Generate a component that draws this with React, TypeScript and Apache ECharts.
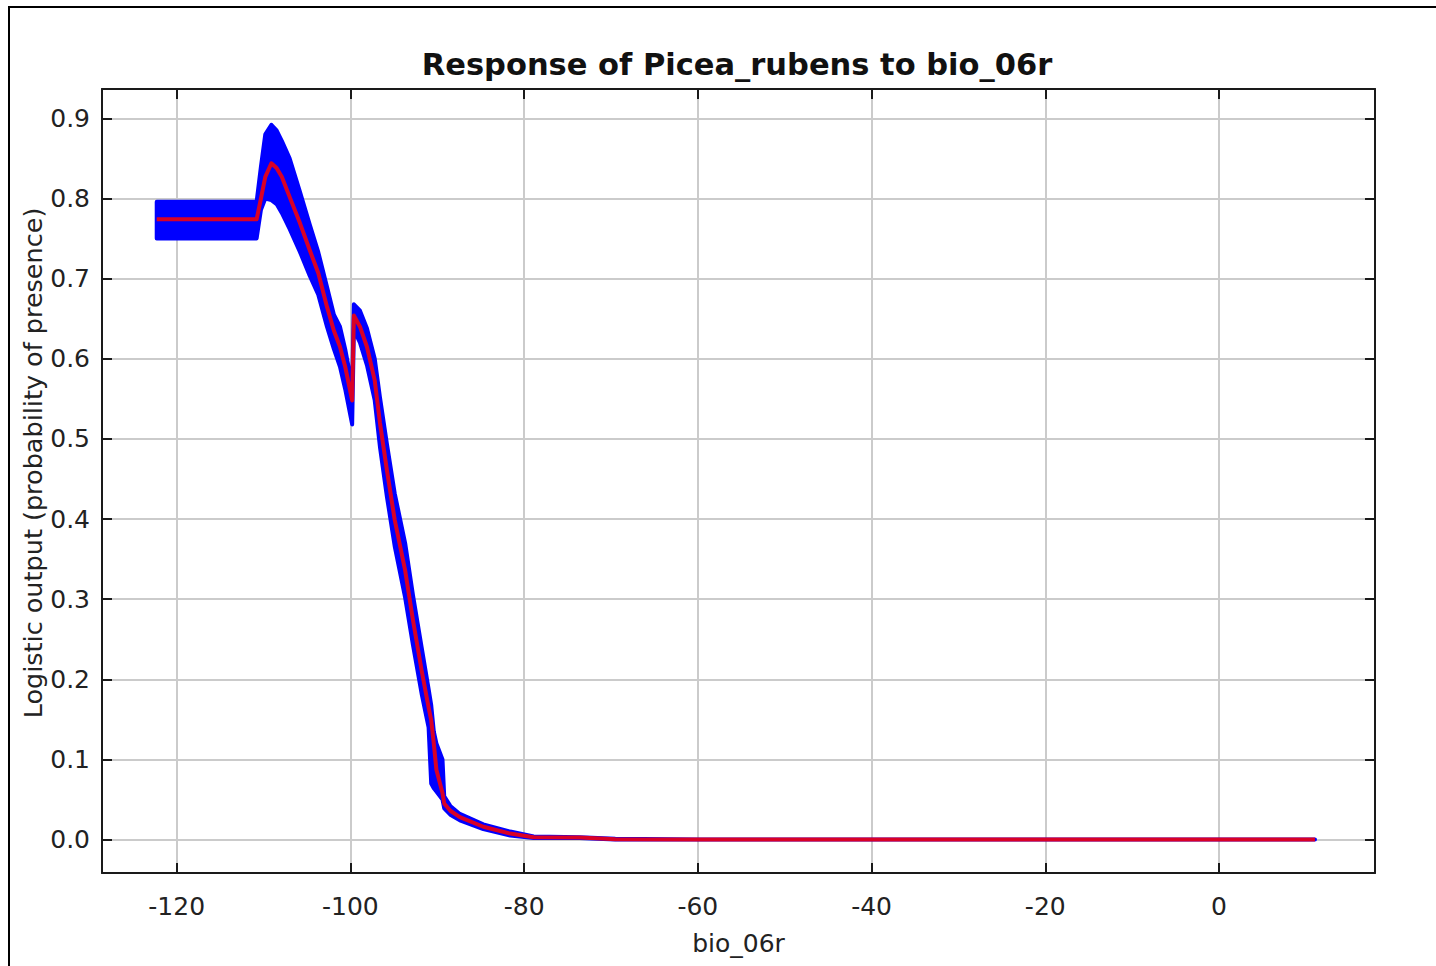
import React, { useEffect, useRef } from "react";
import * as echarts from "echarts";

const TITLE = "Response of Picea_rubens to bio_06r";
const X_NAME = "bio_06r";
const Y_NAME = "Logistic output (probability of presence)";

const xValues = [
  -122.3, -110.8, -110.3, -109.8, -109.1, -108.5, -107.9, -107.0, -105.8, -104.7,
  -103.7, -102.7, -101.9, -101.2, -100.6, -99.8, -99.6, -98.9, -98.1, -97.2,
  -96.6, -95.8, -94.9, -93.7, -92.8, -91.8, -91.0, -90.7, -90.4, -90.1,
  -89.4, -89.2, -88.5, -87.4, -84.7, -81.6, -78.9, -73.6, -69.5, -60.0, 11.05,
];
const meanValues = [
  0.774, 0.774, 0.8, 0.827, 0.844, 0.838, 0.827, 0.802, 0.769, 0.736,
  0.707, 0.665, 0.635, 0.615, 0.59, 0.548, 0.654, 0.64, 0.615, 0.573,
  0.52, 0.461, 0.399, 0.336, 0.274, 0.211, 0.165, 0.149, 0.12, 0.087,
  0.058, 0.045, 0.036, 0.028, 0.016, 0.0075, 0.003, 0.0025, 0.0005, 0.0, 0.0,
];
const upperValues = [
  0.796, 0.796, 0.84, 0.88, 0.892, 0.885, 0.872, 0.85, 0.808, 0.768,
  0.733, 0.69, 0.655, 0.64, 0.612, 0.566, 0.668, 0.66, 0.638, 0.6,
  0.552, 0.494, 0.432, 0.37, 0.305, 0.24, 0.188, 0.168, 0.135, 0.12,
  0.1, 0.054, 0.042, 0.032, 0.019, 0.01, 0.004, 0.003, 0.001, 0.0, 0.0,
];
const lowerValues = [
  0.75, 0.75, 0.786, 0.8, 0.798, 0.793, 0.782, 0.762, 0.733, 0.704,
  0.68, 0.64, 0.612, 0.59, 0.562, 0.518, 0.636, 0.62, 0.592, 0.548,
  0.49, 0.428, 0.366, 0.302, 0.243, 0.182, 0.14, 0.07, 0.064, 0.06,
  0.05, 0.039, 0.031, 0.024, 0.013, 0.005, 0.002, 0.002, 0.0, 0.0, 0.0,
];

const X_MIN = -128.6;
const X_MAX = 17.96;
const Y_MIN = -0.0417;
const Y_MAX = 0.9366;

const FONT = "DejaVu Sans";

export default function App() {
  const ref = useRef<HTMLDivElement>(null);

  useEffect(() => {
    if (!ref.current) return;
    const chart = echarts.init(ref.current, undefined, { renderer: "svg" });

    const isMult = (v: number, step: number) =>
      Math.abs(v / step - Math.round(v / step)) < 1e-6;

    const axisLine = { show: true, onZero: false, lineStyle: { color: "#1a1a1a", width: 2 } };
    const axisTick = { show: true, inside: true, length: 10, lineStyle: { color: "#1a1a1a", width: 2 } };
    const splitLine = { show: true, lineStyle: { color: "#cbcbcb", width: 2 } };

    chart.setOption({
      animation: false,
      backgroundColor: "#ffffff",
      grid: { left: 102, right: 61, top: 89, bottom: 93, containLabel: false },
      graphic: [
        {
          type: "rect",
          silent: true,
          z: -10,
          shape: { x: 9, y: 7, width: 1500, height: 1000 },
          style: { fill: "none", stroke: "#000", lineWidth: 2 },
        },
        {
          type: "text",
          x: 737,
          y: 64,
          style: {
            text: TITLE,
            fontFamily: FONT,
            fontWeight: "bold",
            fontSize: 30.5,
            fill: "#111",
            textAlign: "center",
            textVerticalAlign: "middle",
          },
        },
        {
          type: "text",
          x: 33,
          y: 463,
          rotation: Math.PI / 2,
          style: {
            text: Y_NAME,
            fontFamily: FONT,
            fontSize: 25.5,
            fill: "#222",
            textAlign: "center",
            textVerticalAlign: "middle",
          },
        },
      ],
      xAxis: [
        {
          type: "value",
          position: "bottom",
          min: X_MIN,
          max: X_MAX,
          minInterval: 20,
          maxInterval: 20,
          splitNumber: 7,
          name: X_NAME,
          nameLocation: "middle",
          nameGap: 58,
          nameTextStyle: { fontFamily: FONT, fontSize: 25, color: "#222" },
          axisLine,
          axisTick,
          splitLine,
          axisLabel: {
            show: true,
            margin: 21,
            fontFamily: FONT,
            fontSize: 25,
            color: "#222",
            showMinLabel: true,
            showMaxLabel: true,
            formatter: (v: number) => (isMult(v, 20) ? String(Math.round(v)) : ""),
          },
        },
        {
          type: "value",
          position: "top",
          min: X_MIN,
          max: X_MAX,
          minInterval: 20,
          maxInterval: 20,
          splitNumber: 7,
          axisLine,
          axisTick,
          splitLine: { show: false },
          axisLabel: { show: false },
        },
      ],
      yAxis: [
        {
          type: "value",
          position: "left",
          min: Y_MIN,
          max: Y_MAX,
          minInterval: 0.1,
          maxInterval: 0.1,
          splitNumber: 10,
          axisLine,
          axisTick,
          splitLine,
          axisLabel: {
            show: true,
            margin: 12,
            fontFamily: FONT,
            fontSize: 25,
            color: "#222",
            formatter: (v: number) => (isMult(v, 0.1) ? (Math.abs(v) < 1e-9 ? 0 : v).toFixed(1) : ""),
          },
        },
        {
          type: "value",
          position: "right",
          min: Y_MIN,
          max: Y_MAX,
          minInterval: 0.1,
          maxInterval: 0.1,
          splitNumber: 10,
          axisLine,
          axisTick,
          splitLine: { show: false },
          axisLabel: { show: false },
        },
      ],
      series: [
        {
          type: "custom",
          name: "band",
          xAxisIndex: 0,
          yAxisIndex: 0,
          silent: true,
          clip: true,
          data: [[0, 0]],
          renderItem: (_params: any, api: any) => {
            const pts: number[][] = [];
            for (let i = 0; i < xValues.length; i++) pts.push(api.coord([xValues[i], upperValues[i]]));
            for (let i = xValues.length - 1; i >= 0; i--) pts.push(api.coord([xValues[i], lowerValues[i]]));
            return {
              type: "polygon",
              shape: { points: pts },
              style: { fill: "#0000ff", stroke: "#0000ff", lineWidth: 4, lineJoin: "round" },
            };
          },
          z: 2,
        },
        {
          type: "line",
          name: "mean",
          xAxisIndex: 0,
          yAxisIndex: 0,
          data: xValues.map((x, i) => [x, meanValues[i]]),
          showSymbol: false,
          symbol: "none",
          lineStyle: { color: "#ff0000", width: 4, opacity: 0.85, join: "round" },
          z: 3,
        },
      ],
    });

    return () => chart.dispose();
  }, []);

  return (
    <div
      ref={ref}
      style={{ position: "absolute", left: 0, top: 0, width: 1436, height: 966 }}
    />
  );
}
